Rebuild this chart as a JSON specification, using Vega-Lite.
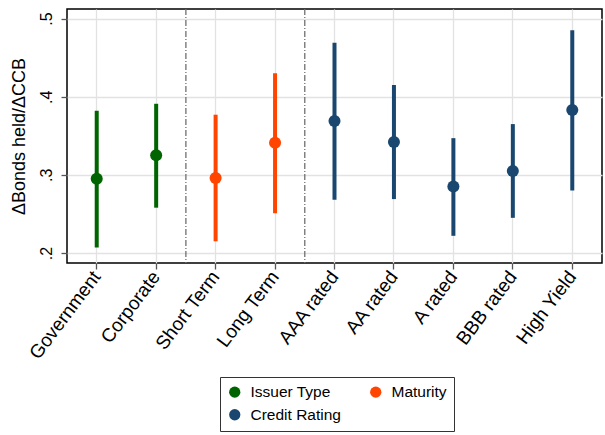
{
  "$schema": "https://vega.github.io/schema/vega-lite/v6.json",
  "width": 535,
  "height": 254,
  "padding": {"left": 10, "top": 8, "right": 1, "bottom": 5},
  "config": {
    "font": "Liberation Sans",
    "view": {"stroke": "black", "strokeWidth": 1.5},
    "axis": {
      "gridColor": "#e2e2e2",
      "gridWidth": 1.3,
      "domain": false,
      "tickColor": "#555555",
      "tickSize": 6,
      "tickWidth": 1.3,
      "labelColor": "black",
      "titleColor": "black",
      "labelFont": "Liberation Sans",
      "titleFont": "Liberation Sans"
    },
    "axisX": {
      "labelAngle": -53,
      "labelAlign": "right",
      "labelBaseline": "middle",
      "labelFontSize": 19,
      "labelPadding": 4,
      "labelLimit": 300
    },
    "axisY": {
      "labelAngle": -90,
      "labelAlign": "center",
      "labelBaseline": "bottom",
      "labelFontSize": 16,
      "labelPadding": 7,
      "titleFontSize": 18,
      "titleFontWeight": "normal",
      "titlePadding": 10
    },
    "legend": {
      "labelFontSize": 15.5,
      "labelColor": "black",
      "labelFont": "Liberation Sans"
    }
  },
  "datasets": {
    "est": [
      {"cat": "Government", "group": "Issuer Type", "b": 0.295, "lo": 0.207, "hi": 0.382},
      {"cat": "Corporate", "group": "Issuer Type", "b": 0.325, "lo": 0.258, "hi": 0.391},
      {"cat": "Short Term", "group": "Maturity", "b": 0.296, "lo": 0.215, "hi": 0.377},
      {"cat": "Long Term", "group": "Maturity", "b": 0.341, "lo": 0.251, "hi": 0.430},
      {"cat": "AAA rated", "group": "Credit Rating", "b": 0.369, "lo": 0.268, "hi": 0.469},
      {"cat": "AA rated", "group": "Credit Rating", "b": 0.342, "lo": 0.269, "hi": 0.415},
      {"cat": "A rated", "group": "Credit Rating", "b": 0.285, "lo": 0.222, "hi": 0.347},
      {"cat": "BBB rated", "group": "Credit Rating", "b": 0.305, "lo": 0.245, "hi": 0.365},
      {"cat": "High Yield", "group": "Credit Rating", "b": 0.383, "lo": 0.280, "hi": 0.485}
    ],
    "sep": [
      {"cat": "Short Term"},
      {"cat": "AAA rated"}
    ]
  },
  "layer": [
    {
      "data": {"name": "sep"},
      "mark": {"type": "rule", "color": "#707070", "strokeWidth": 1.3, "strokeDash": [6, 2, 1, 2]},
      "encoding": {
        "x": {
          "field": "cat",
          "type": "nominal",
          "sort": null,
          "bandPosition": 0,
          "scale": {
            "type": "band",
            "domain": ["Government", "Corporate", "Short Term", "Long Term", "AAA rated", "AA rated", "A rated", "BBB rated", "High Yield"],
            "paddingInner": 0,
            "paddingOuter": 0
          },
          "axis": {"title": null, "bandPosition": 0.5, "grid": true}
        }
      }
    },
    {
      "data": {"name": "est"},
      "mark": {"type": "rule", "strokeWidth": 4, "strokeCap": "butt"},
      "encoding": {
        "x": {"field": "cat", "type": "nominal", "sort": null, "axis": {"title": null, "bandPosition": 0.5, "grid": true}},
        "y": {
          "field": "lo",
          "type": "quantitative",
          "scale": {"domain": [0.1872, 0.5123], "nice": false, "zero": false},
          "axis": {
            "title": "ΔBonds held/ΔCCB",
            "values": [0.2, 0.3, 0.4, 0.5],
            "labelExpr": "replace(format(datum.value, '.1f'), '0.', '.')",
            "grid": true
          }
        },
        "y2": {"field": "hi"},
        "color": {
          "field": "group",
          "type": "nominal",
          "scale": {
            "domain": ["Issuer Type", "Maturity", "Credit Rating"],
            "range": ["#006400", "#ff4500", "#1a476f"]
          }
        }
      }
    },
    {
      "data": {"name": "est"},
      "mark": {"type": "point", "filled": true, "opacity": 1, "size": 145, "shape": "circle"},
      "encoding": {
        "x": {"field": "cat", "type": "nominal", "sort": null},
        "y": {"field": "b", "type": "quantitative"},
        "color": {
          "field": "group",
          "type": "nominal",
          "legend": {
            "title": null,
            "orient": "none",
            "legendX": 153,
            "legendY": 368,
            "columns": 2,
            "direction": "horizontal",
            "columnPadding": 27,
            "rowPadding": 6,
            "padding": 7,
            "strokeColor": "#333333",
            "fillColor": "white",
            "symbolType": "circle",
            "symbolSize": 127,
            "symbolStrokeWidth": 0,
            "symbolOpacity": 1,
            "labelOffset": 8
          }
        }
      }
    }
  ]
}
